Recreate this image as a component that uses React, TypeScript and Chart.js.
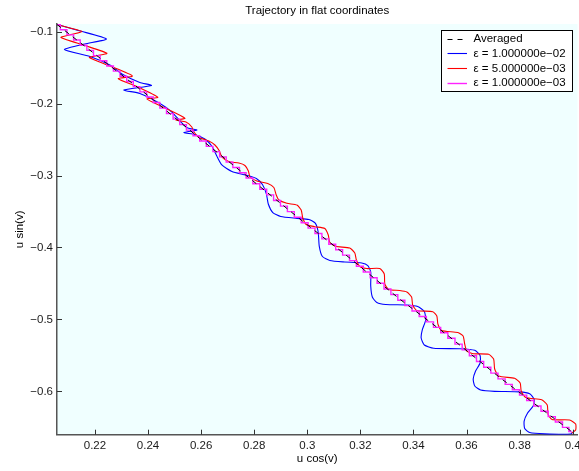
import React, { useEffect, useRef } from "react";
import { Chart, registerables } from "chart.js";

Chart.register(...registerables);

const FONT = "'Liberation Sans', Arial, Helvetica, sans-serif";

const TITLE = "Trajectory in flat coordinates";
const X_LABEL = "u cos(v)";
const Y_LABEL = "u sin(v)";

const X_MIN = 0.2057;
const X_MAX = 0.4018;
const Y_MIN = -0.6603;
const Y_MAX = -0.0893;
const X_STEP = 0.02;
const Y_STEP = 0.1;

const SERIES_LABELS = [
  "Averaged",
  "ε = 1.000000e−02",
  "ε = 5.000000e−03",
  "ε = 1.000000e−03",
];

// averaged trajectory
const avgX = [0.2057, 0.2407, 0.2595, 0.2784, 0.2972, 0.316, 0.3348, 0.3537, 0.3725, 0.3875, 0.3996];
const avgY = [-0.09, -0.1908, -0.2485, -0.3041, -0.3604, -0.4147, -0.4717, -0.5245, -0.5808, -0.6225, -0.6559];

// ε = 1e-2
const blueX = [
  0.2057, 0.2144, 0.2243, 0.2162, 0.2085, 0.2181, 0.2256, 0.2305, 0.2369, 0.2413,
  0.2309, 0.2369, 0.2445, 0.249, 0.2524, 0.255, 0.2584, 0.2535, 0.2576, 0.2614,
  0.264, 0.2659, 0.2678, 0.2716, 0.2768, 0.2808, 0.2831, 0.2846, 0.2853, 0.287,
  0.29, 0.2961, 0.3006, 0.303, 0.3041, 0.3045, 0.3057, 0.3085, 0.3141, 0.3205,
  0.3228, 0.3239, 0.3239, 0.3245, 0.3262, 0.3296, 0.3375, 0.3416, 0.3441, 0.3446,
  0.3433, 0.3429, 0.3441, 0.3476, 0.3574, 0.3631, 0.3651, 0.3651, 0.3634, 0.3625,
  0.3631, 0.3653, 0.3706, 0.38, 0.3838, 0.3855, 0.3851, 0.383, 0.3817, 0.3819,
  0.3838, 0.3894, 0.3992, 0.4,
];
const blueY = [
  -0.09, -0.099, -0.1102, -0.1171, -0.1248, -0.1345, -0.1463, -0.1595, -0.1706, -0.1748,
  -0.1811, -0.1859, -0.1998, -0.2117, -0.2256, -0.2339, -0.2367, -0.2402, -0.2429, -0.2492,
  -0.2589, -0.2728, -0.2853, -0.2944, -0.2993, -0.3041, -0.3125, -0.3257, -0.3396, -0.3514,
  -0.357, -0.3595, -0.3611, -0.3662, -0.3785, -0.398, -0.4126, -0.4181, -0.4202, -0.4216,
  -0.4251, -0.4341, -0.4536, -0.4689, -0.4765, -0.4793, -0.48, -0.4821, -0.489, -0.5009,
  -0.5148, -0.5259, -0.5356, -0.5402, -0.5408, -0.543, -0.5502, -0.5606, -0.5718, -0.5829,
  -0.5926, -0.5982, -0.6, -0.6007, -0.6035, -0.6114, -0.6204, -0.6302, -0.6413, -0.6517,
  -0.6573, -0.6591, -0.6594, -0.6566,
];

// ε = 5e-3
const redX = [
  0.2057, 0.2106, 0.2151, 0.211, 0.2072, 0.2162, 0.2245, 0.2211, 0.2179, 0.2256,
  0.2341, 0.2288, 0.2362, 0.2437, 0.2396, 0.2464, 0.2539, 0.2505, 0.2543, 0.2565,
  0.2573, 0.2592, 0.2629, 0.2652, 0.2669, 0.2678, 0.2704, 0.2742, 0.2765, 0.2778,
  0.2784, 0.281, 0.2851, 0.2874, 0.2883, 0.2893, 0.2923, 0.2961, 0.2977, 0.2983,
  0.2996, 0.3028, 0.3066, 0.3079, 0.3085, 0.3107, 0.316, 0.3179, 0.3185, 0.3198,
  0.3224, 0.3273, 0.329, 0.3292, 0.3307, 0.3348, 0.3375, 0.3393, 0.3397, 0.3412,
  0.3473, 0.3488, 0.3492, 0.3506, 0.3567, 0.3587, 0.3593, 0.3601, 0.3627, 0.3683,
  0.3702, 0.3706, 0.3721, 0.3781, 0.3802, 0.3806, 0.3823, 0.3883, 0.3904, 0.3907,
  0.3922, 0.3988, 0.4011, 0.4011, 0.3996,
];
const redY = [
  -0.09, -0.0949, -0.0997, -0.1039, -0.1081, -0.1192, -0.13, -0.1331, -0.1359, -0.1477,
  -0.1616, -0.1654, -0.1769, -0.1912, -0.1936, -0.2061, -0.2204, -0.2228, -0.2256, -0.2325,
  -0.2395, -0.2471, -0.252, -0.2575, -0.2659, -0.2742, -0.2805, -0.2826, -0.286, -0.2937,
  -0.302, -0.3076, -0.3111, -0.3166, -0.3271, -0.334, -0.3386, -0.341, -0.3479, -0.359,
  -0.3681, -0.3711, -0.3736, -0.3827, -0.3931, -0.3984, -0.4008, -0.4077, -0.4174, -0.4265,
  -0.4293, -0.4293, -0.4369, -0.4508, -0.4585, -0.4598, -0.4619, -0.4689, -0.48, -0.4876,
  -0.4893, -0.4953, -0.5064, -0.5155, -0.5182, -0.5231, -0.5342, -0.544, -0.5477, -0.5485,
  -0.5551, -0.569, -0.5787, -0.5819, -0.5885, -0.5996, -0.6086, -0.6118, -0.619, -0.6316,
  -0.6392, -0.6399, -0.6455, -0.6538, -0.658,
];

// ε = 1e-3 (step corners)
const magentaX = [
  0.2057, 0.2082, 0.2107, 0.2132, 0.2157, 0.2182, 0.2207, 0.2232, 0.2257, 0.2282,
  0.2307, 0.2332, 0.2357, 0.2382, 0.2407, 0.2432, 0.2457, 0.2482, 0.2507, 0.2532,
  0.2557, 0.2582, 0.2607, 0.2632, 0.2657, 0.2682, 0.2707, 0.2732, 0.2757, 0.2782,
  0.2808, 0.2834, 0.286, 0.2886, 0.2912, 0.2938, 0.2964, 0.299, 0.3016, 0.3042,
  0.3068, 0.3094, 0.312, 0.3146, 0.3172, 0.3198, 0.3224, 0.325, 0.3276, 0.3302,
  0.3328, 0.3354, 0.3381, 0.3408, 0.3435, 0.3462, 0.3489, 0.3516, 0.3543, 0.357,
  0.3597, 0.3624, 0.3651, 0.3678, 0.3705, 0.3732, 0.3759, 0.3786, 0.3813, 0.384,
  0.3867, 0.3894, 0.3921, 0.3948, 0.3975, 0.3996,
];
const magentaY = [
  -0.09, -0.0972, -0.1044, -0.1116, -0.1188, -0.126, -0.1332, -0.1404, -0.1476, -0.1548,
  -0.162, -0.1692, -0.1764, -0.1836, -0.1908, -0.1985, -0.2062, -0.2139, -0.2216, -0.2292,
  -0.2369, -0.2446, -0.252, -0.2594, -0.2667, -0.2741, -0.2814, -0.2888, -0.2962, -0.3035,
  -0.3113, -0.3191, -0.3268, -0.3346, -0.3425, -0.3502, -0.358, -0.3656, -0.3731, -0.3806,
  -0.3881, -0.3956, -0.4031, -0.4107, -0.4183, -0.4262, -0.4341, -0.442, -0.4498, -0.4577,
  -0.4656, -0.4734, -0.4809, -0.4884, -0.496, -0.5035, -0.5111, -0.5186, -0.5263, -0.5344,
  -0.5424, -0.5505, -0.5586, -0.5666, -0.5747, -0.5827, -0.5903, -0.5978, -0.6053, -0.6128,
  -0.6203, -0.6277, -0.6352, -0.6426, -0.6501, -0.6559,
];

const toPoints = (xs: number[], ys: number[]) => xs.map((x, i) => ({ x, y: ys[i] }));

const decorations = {
  id: "decorations",
  beforeDraw(chart: any) {
    const { ctx, chartArea: a, width, height } = chart;
    ctx.save();
    ctx.fillStyle = "#ffffff";
    ctx.fillRect(0, 0, width, height);
    ctx.fillStyle = "#f0ffff";
    ctx.fillRect(a.left, a.top, a.right - a.left, a.bottom - a.top);
    ctx.restore();
  },
  afterDraw(chart: any) {
    const { ctx, chartArea: a, scales } = chart;
    ctx.save();

    // inward tick marks
    ctx.strokeStyle = "#333333";
    ctx.lineWidth = 1;
    ctx.beginPath();
    for (const t of scales.x.ticks) {
      const px = Math.round(scales.x.getPixelForValue(t.value)) + 0.5;
      ctx.moveTo(px, a.bottom);
      ctx.lineTo(px, a.bottom - 5);
    }
    for (const t of scales.y.ticks) {
      const py = Math.round(scales.y.getPixelForValue(t.value)) + 0.5;
      ctx.moveTo(a.left, py);
      ctx.lineTo(a.left + 5, py);
    }
    ctx.stroke();

    // title and axis labels
    ctx.fillStyle = "#000000";
    ctx.font = `11.5px ${FONT}`;
    ctx.textAlign = "center";
    ctx.textBaseline = "middle";
    const cx = (a.left + a.right) / 2;
    ctx.fillText(TITLE, cx, 11);
    ctx.fillText(X_LABEL, cx, 459);
    ctx.save();
    ctx.translate(20, (a.top + a.bottom) / 2);
    ctx.rotate(-Math.PI / 2);
    ctx.fillText(Y_LABEL, 0, 0);
    ctx.restore();

    // legend box
    const boxW = 131;
    const boxH = 61;
    const left = Math.round(a.right - 6 - boxW);
    const top = Math.round(a.top + 6);
    ctx.fillStyle = "#ffffff";
    ctx.fillRect(left, top, boxW, boxH);
    ctx.strokeStyle = "#000000";
    ctx.lineWidth = 1;
    ctx.setLineDash([]);
    ctx.strokeRect(left + 0.5, top + 0.5, boxW, boxH);

    ctx.textAlign = "left";
    chart.data.datasets.forEach((ds: any, i: number) => {
      const y = top + 8.5 + i * 14.7;
      ctx.save();
      ctx.strokeStyle = ds.borderColor;
      ctx.lineWidth = ds.borderWidth;
      ctx.setLineDash(ds.borderDash || []);
      ctx.beginPath();
      ctx.moveTo(left + 6.5, Math.round(y) + 0.5);
      ctx.lineTo(left + 26, Math.round(y) + 0.5);
      ctx.stroke();
      ctx.restore();
      ctx.fillStyle = "#000000";
      ctx.fillText(ds.label, left + 32.5, y + 0.5);
    });

    ctx.restore();
  },
};

export default function App() {
  const canvasRef = useRef<HTMLCanvasElement | null>(null);

  useEffect(() => {
    if (!canvasRef.current) return;
    const tickFont = { family: FONT, size: 11.5 };
    const chart = new Chart(canvasRef.current, {
      type: "line",
      data: {
        datasets: [
          {
            label: SERIES_LABELS[0],
            data: toPoints(avgX, avgY),
            borderColor: "#000000",
            borderWidth: 1,
            borderDash: [5, 5],
            pointRadius: 0,
            tension: 0,
            order: 0,
          },
          {
            label: SERIES_LABELS[1],
            data: toPoints(blueX, blueY),
            borderColor: "#0000ff",
            borderWidth: 1.1,
            pointRadius: 0,
            tension: 0.2,
            order: 3,
          },
          {
            label: SERIES_LABELS[2],
            data: toPoints(redX, redY),
            borderColor: "#ff0000",
            borderWidth: 1.1,
            pointRadius: 0,
            tension: 0.2,
            order: 2,
          },
          {
            label: SERIES_LABELS[3],
            data: toPoints(magentaX, magentaY),
            borderColor: "#ff22ff",
            borderWidth: 1.4,
            pointRadius: 0,
            stepped: "middle",
            order: 1,
          },
        ],
      } as any,
      options: {
        animation: false,
        responsive: false,
        maintainAspectRatio: false,
        devicePixelRatio: 1,
        layout: { padding: { left: 0, top: 24, right: 1.5, bottom: 0 } },
        plugins: {
          legend: { display: false },
          tooltip: { enabled: false },
          title: { display: false },
        },
        scales: {
          x: {
            type: "linear",
            min: X_MIN,
            max: X_MAX,
            grid: { display: false, drawTicks: false },
            border: { display: true, color: "#555555", width: 1.5 },
            ticks: {
              stepSize: X_STEP,
              includeBounds: false,
              autoSkip: false,
              maxRotation: 0,
              padding: 4,
              color: "#1a1a1a",
              font: tickFont,
              callback: (v: any) => String(Number(Number(v).toFixed(2))),
            },
            afterFit: (s: any) => {
              s.height = 36.3;
              s.paddingLeft = 0;
              s.paddingRight = 0;
            },
          },
          y: {
            type: "linear",
            min: Y_MIN,
            max: Y_MAX,
            grid: { display: false, drawTicks: false },
            border: { display: true, color: "#555555", width: 1.5 },
            ticks: {
              stepSize: Y_STEP,
              includeBounds: false,
              autoSkip: false,
              padding: 4,
              color: "#1a1a1a",
              font: tickFont,
              callback: (v: any) => {
                const n = Number(Number(v).toFixed(1));
                return n < 0 ? "−" + Math.abs(n).toFixed(1) : n.toFixed(1);
              },
            },
            afterFit: (s: any) => {
              s.width = 57;
              s.paddingTop = 0;
              s.paddingBottom = 0;
            },
          },
        },
      } as any,
      plugins: [decorations],
    });
    return () => chart.destroy();
  }, []);

  return (
    <div style={{ position: "absolute", left: 0, top: 0, width: 579, height: 471, background: "#ffffff" }}>
      <canvas ref={canvasRef} width={579} height={471} style={{ display: "block" }} />
    </div>
  );
}
